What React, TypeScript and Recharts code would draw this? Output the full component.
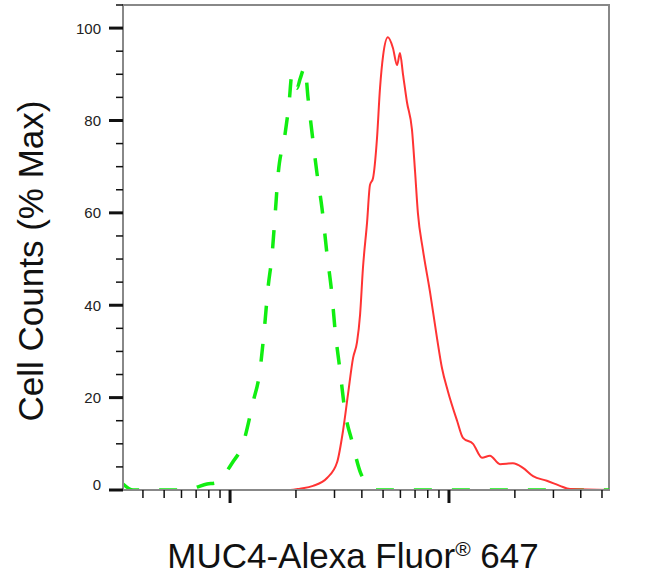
import React from 'react';
import { LineChart, Line, XAxis, YAxis, ReferenceArea, Label } from 'recharts';

// Fluorescence positions are in log10 units (the axis is a log decade scale)
const isotypeLog = [
  2.511, 2.557, 2.795, 2.84, 2.895, 2.932, 2.968, 3.009, 3.059, 3.105, 3.137, 3.155,
  3.174, 3.192, 3.205, 3.219, 3.251, 3.269, 3.283, 3.297, 3.306, 3.32, 3.342, 3.356,
  3.379, 3.397, 3.42, 3.443, 3.466, 3.479, 3.502, 3.525, 3.557, 3.594, 3.639, 3.667, 4.731,
];
const isotypeCount = [
  1.3, 0, 0, 0.5, 1.3, 1.5, 3, 5.8, 10, 19, 26, 34,
  44, 51, 59, 68, 77, 83.5, 90, 88.5, 87, 89, 91.5, 85,
  75.5, 68.6, 61, 51, 42, 35, 26, 17, 10.6, 4, 0.9, 0, 0,
];

const muc4Log = [
  2.511, 3.274, 3.32, 3.379, 3.443, 3.489, 3.516, 3.539, 3.562, 3.58, 3.594, 3.607,
  3.626, 3.639, 3.653, 3.671, 3.685, 3.699, 3.721, 3.744, 3.763, 3.776, 3.79, 3.808,
  3.831, 3.845, 3.858, 3.881, 3.913, 3.945, 3.968, 3.995, 4.037, 4.064, 4.11, 4.151,
  4.187, 4.233, 4.292, 4.338, 4.384, 4.447, 4.507, 4.553, 4.731,
];
const muc4Count = [
  0, 0, 0.3, 0.9, 2.6, 6, 12.8, 20.8, 28.6, 32, 38, 48,
  58, 66, 67.5, 76, 87, 94, 98, 95.7, 92, 94.6, 90, 84,
  78, 69, 60, 52, 43, 33, 26.4, 21.4, 15, 11.3, 10, 7,
  7.4, 5.6, 5.8, 4.8, 3, 2, 0.9, 0.2, 0,
];

const xDomain = [2.511, 4.731];
const xDecades = [2, 3, 4];
const xMultipliers = [1, 2, 3, 4, 5, 6, 7, 8, 9];
const yDomain = [0, 105];
const yTicks = [0, 5, 10, 15, 20, 25, 30, 35, 40, 45, 50, 55, 60, 65, 70, 75, 80, 85, 90, 95, 100, 105];
const yLabelled = [0, 20, 40, 60, 80, 100];

const isotypeData = isotypeLog.map((x, i) => ({ x, count: isotypeCount[i] }));
const muc4Data = muc4Log.map((x, i) => ({ x, count: muc4Count[i] }));

const xTicks = xDecades
  .flatMap((d) => xMultipliers.map((m) => d + Math.log10(m)))
  .filter((v) => v >= xDomain[0] && v <= xDomain[1]);

const FONT = '"Liberation Sans", Arial, Helvetica, sans-serif';

const XTick = (props: any) => {
  const { x, y, payload } = props;
  const major = Math.abs(payload.value - Math.round(payload.value)) < 1e-9;
  return (
    <line
      x1={x}
      x2={x}
      y1={y}
      y2={y + (major ? 13 : 8)}
      stroke="#111"
      strokeWidth={major ? 3 : 1.5}
    />
  );
};

const YTick = (props: any) => {
  const { x, y, payload } = props;
  const v = payload.value;
  const major = yLabelled.includes(v);
  return (
    <g>
      <line x1={x - (major ? 14 : 7)} x2={x} y1={y} y2={y} stroke="#111" strokeWidth={major ? 3 : 1.5} />
      {major && (
        <text
          x={x - 22}
          y={v === 0 ? y - 6 : y}
          textAnchor="end"
          dominantBaseline="central"
          fontSize={15}
          fontFamily={FONT}
          fill="#222"
        >
          {v}
        </text>
      )}
    </g>
  );
};

const XTitle = (props: any) => {
  const { viewBox } = props;
  return (
    <text x={viewBox.x + 230} y={viewBox.y + 78} textAnchor="middle" fontSize={35} fontFamily={FONT} fill="#111">
      <tspan>MUC4-Alexa Fluor</tspan>
      <tspan fontSize={21} dy={-12}>®</tspan>
      <tspan dy={12}> 647</tspan>
    </text>
  );
};

const YTitle = (props: any) => {
  const { viewBox } = props;
  const cx = 43;
  const cy = viewBox.y + 256;
  return (
    <text
      x={cx}
      y={cy}
      transform={`rotate(-90, ${cx}, ${cy})`}
      textAnchor="middle"
      fontSize={35}
      fontFamily={FONT}
      fill="#111"
    >
      Cell Counts (% Max)
    </text>
  );
};

export default function App() {
  return (
    <div style={{ position: 'absolute', left: 0, top: 0, background: '#fff' }}>
      <LineChart width={656} height={583} margin={{ top: 5, right: 47, bottom: 0, left: 0 }}>
        <XAxis
          dataKey="x"
          type="number"
          domain={xDomain}
          ticks={xTicks}
          interval={0}
          allowDataOverflow
          height={93}
          tickSize={0}
          tickMargin={0}
          tickLine={false}
          axisLine={{ stroke: '#888', strokeWidth: 2 }}
          tick={<XTick />}
        >
          <Label content={<XTitle />} />
        </XAxis>
        <YAxis
          type="number"
          domain={yDomain}
          ticks={yTicks}
          interval={0}
          allowDataOverflow
          width={123}
          tickSize={0}
          tickMargin={0}
          tickLine={false}
          axisLine={{ stroke: '#888', strokeWidth: 2 }}
          tick={<YTick />}
        >
          <Label content={<YTitle />} />
        </YAxis>
        <ReferenceArea
          x1={xDomain[0]}
          x2={xDomain[1]}
          y1={yDomain[0]}
          y2={yDomain[1]}
          fill="none"
          stroke="#888"
          strokeWidth={2}
        />
        <Line
          data={isotypeData}
          dataKey="count"
          type="monotone"
          stroke="#11ee11"
          strokeWidth={3.5}
          strokeDasharray="18 20"
          dot={false}
          isAnimationActive={false}
        />
        <Line
          data={muc4Data}
          dataKey="count"
          type="monotone"
          stroke="#ff3333"
          strokeWidth={2}
          dot={false}
          isAnimationActive={false}
        />
      </LineChart>
    </div>
  );
}
